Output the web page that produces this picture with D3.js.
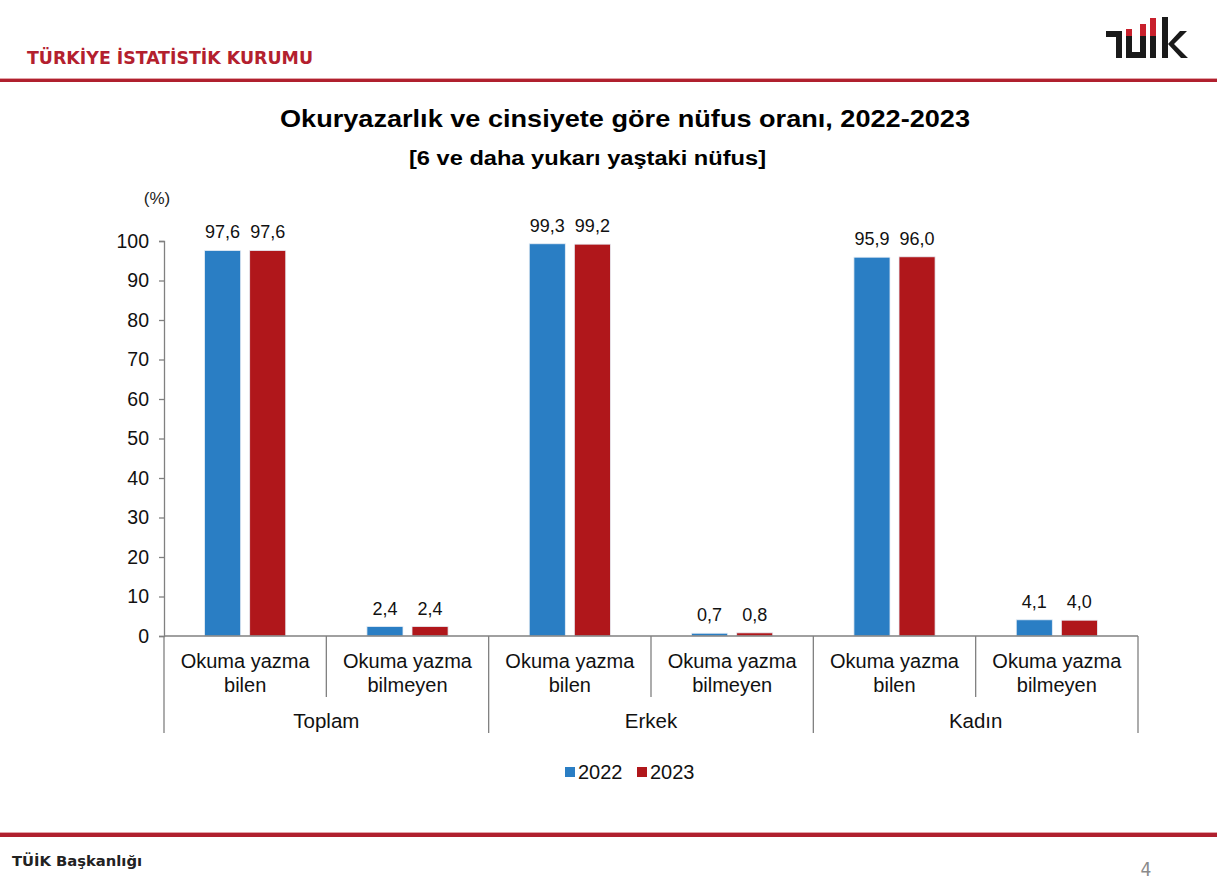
<!DOCTYPE html>
<html><head><meta charset="utf-8">
<script src="https://cdn.jsdelivr.net/npm/d3@7"></script>
<style>body{margin:0;background:#fff}svg{display:block}</style>
</head><body>
<svg id="c" width="1217" height="885"></svg>
<script>
const categories = ["Okuma yazma|bilen","Okuma yazma|bilmeyen","Okuma yazma|bilen","Okuma yazma|bilmeyen","Okuma yazma|bilen","Okuma yazma|bilmeyen"];
const groups = ["Toplam","Erkek","Kadın"];
const series = ["2022","2023"];
const values2022 = [97.6, 2.4, 99.3, 0.7, 95.9, 4.1];
const values2023 = [97.6, 2.4, 99.2, 0.8, 96.0, 4.0];
const yTicks = [0,10,20,30,40,50,60,70,80,90,100];
const colors = ["#2A7EC4","#B0171B"];

const svg = d3.select("#c");
const F = "'Liberation Sans', Arial, sans-serif";

// header
svg.append("text").attr("x",27).attr("y",64).attr("fill","#B3202E")
  .attr("font-family","'DejaVu Sans Condensed','DejaVu Sans',sans-serif").attr("font-weight","bold")
  .attr("font-size",18).attr("textLength",286).attr("lengthAdjust","spacingAndGlyphs")
  .text("TÜRKİYE İSTATİSTİK KURUMU");
svg.append("rect").attr("x",0).attr("y",78).attr("width",1217).attr("height",1).attr("fill","#E2A3A8");
svg.append("rect").attr("x",0).attr("y",79).attr("width",1217).attr("height",3).attr("fill","#B0202E");
svg.append("rect").attr("x",0).attr("y",832).attr("width",1217).attr("height",1).attr("fill","#E2A3A8");
svg.append("rect").attr("x",0).attr("y",833).attr("width",1217).attr("height",4).attr("fill","#B0202E");
svg.append("text").attr("x",12).attr("y",866).attr("fill","#222")
  .attr("font-family","'DejaVu Sans Condensed','DejaVu Sans',sans-serif").attr("font-weight","bold")
  .attr("font-size",14).attr("textLength",130).attr("lengthAdjust","spacingAndGlyphs").text("TÜİK Başkanlığı");
svg.append("text").attr("x",1146).attr("y",876).attr("text-anchor","middle").attr("fill","#8a8a8a")
  .attr("font-family","'DejaVu Sans Condensed',sans-serif").attr("font-size",19).text("4");

// logo
const logo = svg.append("g");
const blk = "#1a1a1a", red = "#C8202C";
[[1106,31,16,6,blk],[1116,31,6,27,blk],
 [1126,36,6,22,blk],[1126,29,6,7,red],
 [1126,52,20,6,blk],[1140,36,6,22,blk],[1140,24,6,12,red],
 [1150,36,6,22,blk],[1150,18,6,18,red],
 [1162,17,6,41,blk]].forEach(r=>logo.append("rect").attr("x",r[0]).attr("y",r[1]).attr("width",r[2]).attr("height",r[3]).attr("fill",r[4]));
logo.append("path").attr("d","M1168,44 L1180,31 L1187,31 L1174,44 L1188,58 L1181,58 Z").attr("fill",blk);

// titles
svg.append("text").attr("x",625).attr("y",127).attr("text-anchor","middle").attr("font-family",F)
  .attr("font-weight","bold").attr("font-size",24).attr("fill","#000")
  .attr("textLength",690).attr("lengthAdjust","spacingAndGlyphs")
  .text("Okuryazarlık ve cinsiyete göre nüfus oranı, 2022-2023");
svg.append("text").attr("x",587.5).attr("y",165).attr("text-anchor","middle").attr("font-family",F)
  .attr("font-weight","bold").attr("font-size",20).attr("fill","#000")
  .attr("textLength",357).attr("lengthAdjust","spacingAndGlyphs")
  .text("[6 ve daha yukarı yaştaki nüfus]");
svg.append("text").attr("x",157).attr("y",204).attr("text-anchor","middle").attr("font-family",F)
  .attr("font-size",17).attr("fill","#222").text("(%)");

// scales
const x0 = 164, x1 = 1138, y0 = 636, y1 = 241;
const y = d3.scaleLinear().domain([0,100]).range([y0,y1]);
const xc = d3.scaleBand().domain(d3.range(categories.length)).range([x0,x1]).padding(0);
const xs = d3.scaleBand().domain(series).range([0,xc.bandwidth()]).paddingInner(0.2).paddingOuter(0.9);

// y axis
const yAxis = svg.append("g").attr("transform",`translate(${x0},0)`)
  .call(d3.axisLeft(y).tickValues(yTicks).tickSize(5).tickPadding(10).tickFormat(d3.format("d")));
yAxis.select(".domain").attr("stroke","#808080").attr("stroke-width",1.3);
yAxis.selectAll(".tick line").attr("stroke","#808080").attr("stroke-width",1.3);
yAxis.selectAll(".tick text").attr("font-family",F).attr("font-size",19.5).attr("fill","#111");

// bars
const data = categories.map((c,i)=>({i, vals:[values2022[i], values2023[i]]}));
const cat = svg.append("g").selectAll("g").data(data).join("g")
  .attr("transform",d=>`translate(${xc(d.i)},0)`);
cat.selectAll("rect").data(d=>d.vals.map((v,k)=>({v,k}))).join("rect")
  .attr("x",d=>xs(series[d.k])).attr("width",xs.bandwidth())
  .attr("y",d=>y(d.v)).attr("height",d=>y0-y(d.v))
  .attr("fill",d=>colors[d.k]).attr("stroke","#e8eef5").attr("stroke-width",0.8);
const fmt = v=>d3.format(".1f")(v).replace(".",",");
cat.selectAll("text.v").data(d=>d.vals.map((v,k)=>({v,k}))).join("text").attr("class","v")
  .attr("x",d=>xs(series[d.k])+xs.bandwidth()/2).attr("y",d=>y(d.v)-12)
  .attr("text-anchor","middle").attr("font-family",F).attr("font-size",18).attr("fill","#111")
  .text(d=>fmt(d.v));

// x axis
const ax = svg.append("g").attr("stroke","#808080").attr("stroke-width",1.3);
ax.append("line").attr("x1",x0).attr("x2",x1).attr("y1",y0).attr("y2",y0);
d3.range(categories.length+1).forEach(i=>{
  const xx = i<categories.length ? xc(i) : x1;
  ax.append("line").attr("x1",xx).attr("x2",xx).attr("y1",y0).attr("y2",i%2===0?733:697);
});
categories.forEach((c,i)=>{
  const lines = c.split("|");
  const t = svg.append("text").attr("text-anchor","middle").attr("font-family",F).attr("font-size",20).attr("fill","#111");
  lines.forEach((l,j)=>t.append("tspan").attr("x",xc(i)+xc.bandwidth()/2).attr("y",668+j*24).text(l));
});
groups.forEach((g,j)=>{
  svg.append("text").attr("x",(xc(2*j)+ (2*j+2<categories.length?xc(2*j+2):x1))/2).attr("y",728)
    .attr("text-anchor","middle").attr("font-family",F).attr("font-size",20.5).attr("fill","#111").text(g);
});

// legend
const lg = svg.append("g");
const lx = [565,637];
series.forEach((s,k)=>{
  lg.append("rect").attr("x",lx[k]).attr("y",767).attr("width",10).attr("height",10).attr("fill",colors[k]);
  lg.append("text").attr("x",lx[k]+13).attr("y",779).attr("font-family",F).attr("font-size",20).attr("fill","#111").text(s);
});
</script>
</body></html>
